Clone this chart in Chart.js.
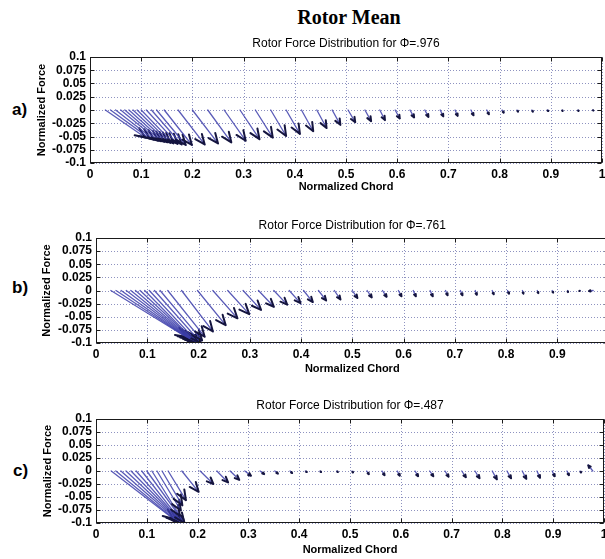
<!DOCTYPE html>
<html><head><meta charset="utf-8">
<script src="https://cdn.jsdelivr.net/npm/chart.js@4/dist/chart.umd.min.js"></script>
<style>
html,body{margin:0;padding:0;background:#fff;}
body{width:605px;height:559px;overflow:hidden;position:relative;}
canvas{position:absolute;left:0;}
#main{position:absolute;left:249px;top:6px;width:200px;text-align:center;font:bold 20px "Liberation Serif","Times New Roman",serif;line-height:22px;color:#000;}
.lbl{position:absolute;font:bold 17px "Liberation Sans",Arial,sans-serif;line-height:20px;color:#000;}
</style></head>
<body>
<div id="main">Rotor Mean</div>
<div class="lbl" style="left:12px;top:100px">a)</div>
<div class="lbl" style="left:12px;top:278px">b)</div>
<div class="lbl" style="left:13px;top:461px">c)</div>
<canvas id="ca" width="640" height="168" style="top:30px"></canvas>
<canvas id="cb" width="640" height="168" style="top:210px"></canvas>
<canvas id="cc" width="640" height="168" style="top:390px"></canvas>
<script>
// ---- data ----
const titles = ['Rotor Force Distribution for \u03A6=.976','Rotor Force Distribution for \u03A6=.761','Rotor Force Distribution for \u03A6=.487'];
const xTitle = 'Normalized Chord';
const yTitle = 'Normalized Force';
const xTickValues = [0,0.1,0.2,0.3,0.4,0.5,0.6,0.7,0.8,0.9,1];
const xTickLabels = ['0','0.1','0.2','0.3','0.4','0.5','0.6','0.7','0.8','0.9','1'];
const yTickValues = [-0.1,-0.075,-0.05,-0.025,0,0.025,0.05,0.075,0.1];
const yTickLabels = ['-0.1','-0.075','-0.05','-0.025','0','0.025','0.05','0.075','0.1'];

// panel a (Phi=.976): arrow tails on chord (y=0), force components u (x) and v (y)
const tailsA = [0.030,0.040,0.050,0.060,0.068,0.076,0.084,0.092,0.100,0.110,0.120,0.130,0.145,0.172,0.200,0.230,0.262,0.293,0.323,0.353,0.383,0.413,0.443,0.473,0.504,0.537,0.566,0.596,0.625,0.654,0.684,0.713,0.744,0.775,0.805,0.834,0.863,0.893,0.922,0.953,0.982];
const uA = [0.078,0.077,0.075,0.073,0.071,0.069,0.067,0.065,0.063,0.061,0.059,0.057,0.054,0.052,0.050,0.046,0.042,0.038,0.034,0.030,0.027,0.023,0.019,0.016,0.014,0.012,0.010,0.009,0.008,0.007,0.006,0.005,0.005,0.004,0.003,0.002,0.002,0.002,0.001,0.001,0.001];
const vA = [-0.052,-0.054,-0.056,-0.058,-0.059,-0.060,-0.061,-0.062,-0.063,-0.064,-0.065,-0.066,-0.066,-0.065,-0.063,-0.061,-0.058,-0.055,-0.052,-0.049,-0.045,-0.040,-0.034,-0.028,-0.023,-0.021,-0.019,-0.016,-0.014,-0.013,-0.012,-0.011,-0.010,-0.008,-0.005,-0.003,-0.003,-0.002,-0.002,-0.002,-0.001];

// panel b (Phi=.761)
const tailsB = [0.029,0.039,0.049,0.059,0.068,0.077,0.086,0.095,0.104,0.114,0.125,0.140,0.167,0.198,0.228,0.257,0.287,0.317,0.347,0.377,0.405,0.434,0.465,0.500,0.529,0.559,0.590,0.619,0.652,0.682,0.711,0.740,0.773,0.803,0.832,0.861,0.890,0.920,0.945,0.970];
const uB = [0.146,0.141,0.136,0.131,0.125,0.119,0.113,0.105,0.098,0.091,0.082,0.072,0.061,0.055,0.048,0.042,0.035,0.030,0.026,0.022,0.018,0.015,0.012,0.010,0.009,0.008,0.006,0.005,0.005,0.004,0.004,0.003,0.003,0.003,0.002,0.002,0.002,0.001,-0.002,-0.008];
const vB = [-0.088,-0.091,-0.094,-0.097,-0.099,-0.101,-0.103,-0.104,-0.103,-0.100,-0.095,-0.088,-0.078,-0.066,-0.053,-0.045,-0.037,-0.031,-0.027,-0.024,-0.022,-0.019,-0.017,-0.014,-0.013,-0.012,-0.011,-0.011,-0.011,-0.009,-0.009,-0.008,-0.007,-0.006,-0.006,-0.005,-0.004,-0.003,-0.001,-0.001];

// panel c (Phi=.487)
const tailsC = [0.030,0.039,0.049,0.059,0.069,0.079,0.090,0.100,0.110,0.120,0.130,0.142,0.169,0.205,0.238,0.264,0.293,0.323,0.352,0.382,0.412,0.441,0.474,0.504,0.533,0.563,0.593,0.628,0.657,0.687,0.720,0.746,0.780,0.809,0.839,0.868,0.898,0.927,0.953,0.978];
const uC = [0.122,0.120,0.116,0.111,0.104,0.096,0.086,0.074,0.055,0.047,0.040,0.035,0.033,0.026,0.022,0.018,0.012,0.008,0.006,0.004,0.003,0.002,0.002,0.002,0.004,0.005,0.005,0.006,0.007,0.007,0.008,0.009,0.009,0.008,0.008,0.006,0.005,0.004,0.002,-0.009];
const vC = [-0.092,-0.096,-0.099,-0.102,-0.104,-0.106,-0.107,-0.100,-0.086,-0.076,-0.066,-0.056,-0.040,-0.025,-0.022,-0.017,-0.009,-0.006,-0.005,-0.004,-0.002,-0.002,-0.002,-0.003,-0.006,-0.008,-0.009,-0.010,-0.010,-0.011,-0.012,-0.014,-0.016,-0.014,-0.015,-0.013,-0.010,-0.008,-0.003,0.011];

// ---- drawing ----
const SANS = '"Liberation Sans", Arial, sans-serif';
const SHAFT = 'rgba(62,64,172,0.85)';
const HEAD = '#15153f';

const quiverPlugin = {
  id: 'quiver',
  beforeDatasetsDraw(chart) {
    const {ctx, chartArea: a, scales: {x, y}} = chart;
    ctx.save();
    ctx.strokeStyle = '#8e92c0';
    ctx.lineWidth = 1;
    ctx.setLineDash([1, 2]);
    x.ticks.forEach(t => {
      const px = Math.round(x.getPixelForValue(t.value)) + 0.5;
      ctx.beginPath(); ctx.moveTo(px, a.top); ctx.lineTo(px, a.bottom); ctx.stroke();
    });
    y.ticks.forEach(t => {
      const py = Math.round(y.getPixelForValue(t.value)) + 0.5;
      ctx.beginPath(); ctx.moveTo(a.left, py); ctx.lineTo(a.right, py); ctx.stroke();
    });
    ctx.setLineDash([]);
    ctx.restore();
  },
  afterDatasetsDraw(chart) {
    const {ctx, chartArea: a, scales: {x, y}} = chart;
    const ds = chart.data.datasets[0];
    ctx.save();
    ctx.beginPath(); ctx.rect(a.left, a.top, a.right - a.left, a.bottom - a.top); ctx.clip();
    ds.data.forEach((p, i) => {
      const x0 = x.getPixelForValue(p.x), y0 = y.getPixelForValue(p.y);
      const x1 = x.getPixelForValue(p.x + ds.u[i]), y1 = y.getPixelForValue(p.y + ds.v[i]);
      const dx = x1 - x0, dy = y1 - y0;
      const len = Math.hypot(dx, dy);
      if (len < 0.5) return;
      ctx.strokeStyle = SHAFT; ctx.lineWidth = 1.3; ctx.lineCap = 'round';
      ctx.beginPath(); ctx.moveTo(x0, y0); ctx.lineTo(x1, y1); ctx.stroke();
      const hl = Math.min(0.35 * len, 10) / len;
      const b = 0.42;
      const w1x = x1 - hl * (dx + b * dy), w1y = y1 - hl * (dy - b * dx);
      const w2x = x1 - hl * (dx - b * dy), w2y = y1 - hl * (dy + b * dx);
      ctx.strokeStyle = HEAD; ctx.lineWidth = 2; ctx.lineJoin = 'round';
      ctx.beginPath(); ctx.moveTo(w1x, w1y); ctx.lineTo(x1, y1); ctx.lineTo(w2x, w2y); ctx.stroke();
    });
    ctx.restore();
    ctx.save();
    ctx.strokeStyle = '#1a1a1a'; ctx.lineWidth = 1;
    const L = Math.round(a.left) + 0.5, R = Math.round(a.right) - 0.5, T = Math.round(a.top) + 0.5, B = Math.round(a.bottom) - 0.5;
    ctx.strokeRect(L, T, R - L, B - T);
    ctx.beginPath();
    x.ticks.forEach(t => {
      const px = Math.round(x.getPixelForValue(t.value)) + 0.5;
      ctx.moveTo(px, T); ctx.lineTo(px, T + 4);
      ctx.moveTo(px, B); ctx.lineTo(px, B - 4);
    });
    y.ticks.forEach(t => {
      const py = Math.round(y.getPixelForValue(t.value)) + 0.5;
      ctx.moveTo(L, py); ctx.lineTo(L + 4, py);
      ctx.moveTo(R, py); ctx.lineTo(R - 4, py);
    });
    ctx.stroke();
    ctx.restore();
  }
};

function makeChart(id, title, tails, u, v, geo) {
  const ctx = document.getElementById(id);
  return new Chart(ctx, {
    type: 'scatter',
    data: { datasets: [{ data: tails.map(t => ({x: t, y: 0})), u: u, v: v, pointRadius: 0, showLine: false }] },
    options: {
      responsive: false, animation: false, devicePixelRatio: 1,
      events: [],
      layout: { padding: { left: 0, right: geo.padRight, top: 0, bottom: 0 } },
      plugins: {
        legend: { display: false }, tooltip: { enabled: false },
        title: { display: true, text: title, fullSize: false, color: '#000',
          font: { family: SANS, size: 12, weight: 'normal', lineHeight: 1.2 },
          padding: { top: geo.titleTop, bottom: geo.titleBottom } }
      },
      scales: {
        x: {
          type: 'linear', min: 0, max: 1,
          afterBuildTicks: s => { s.ticks = xTickValues.map(val => ({value: val})); },
          afterFit: s => { s.height = 35; s.paddingLeft = 0; s.paddingRight = 0; },
          grid: { display: false, drawTicks: false },
          border: { display: false },
          ticks: { autoSkip: false, maxRotation: 0, padding: 4, color: '#000',
            font: { family: SANS, size: 12, weight: 'bold' },
            callback: (val, i) => xTickLabels[i] },
          title: { display: true, text: xTitle, color: '#000',
            font: { family: SANS, size: 11, weight: 'bold', lineHeight: 1.2 },
            padding: { top: 0, bottom: geo.xTitleBottom } }
        },
        y: {
          type: 'linear', min: -0.1, max: 0.1,
          afterBuildTicks: s => { s.ticks = yTickValues.map(val => ({value: val})); },
          afterFit: s => { s.width = geo.yWidth; s.paddingTop = 0; s.paddingBottom = 0; },
          grid: { display: false, drawTicks: false },
          border: { display: false },
          ticks: { autoSkip: false, padding: 4, color: '#000',
            font: { family: SANS, size: 12, weight: 'bold' },
            callback: (val, i) => yTickLabels[i] },
          title: { display: true, text: yTitle, color: '#000',
            font: { family: SANS, size: 11, weight: 'bold', lineHeight: 1.2 },
            padding: { top: geo.yTitlePad, bottom: 0 } }
        }
      }
    },
    plugins: [quiverPlugin]
  });
}

makeChart('ca', titles[0], tailsA, uA, vA, { padRight: 38, yWidth: 90, titleTop: 6.8, titleBottom: 5.8, xTitleBottom: 4.4, yTitlePad: 35.4 });
makeChart('cb', titles[1], tailsB, uB, vB, { padRight: 31.5, yWidth: 96, titleTop: 8.8, titleBottom: 4.8, xTitleBottom: 2.4, yTitlePad: 40.4 });
makeChart('cc', titles[2], tailsC, uC, vC, { padRight: 36, yWidth: 96, titleTop: 8.8, titleBottom: 5.8, xTitleBottom: 1.4, yTitlePad: 41.4 });
</script>
</body></html>
